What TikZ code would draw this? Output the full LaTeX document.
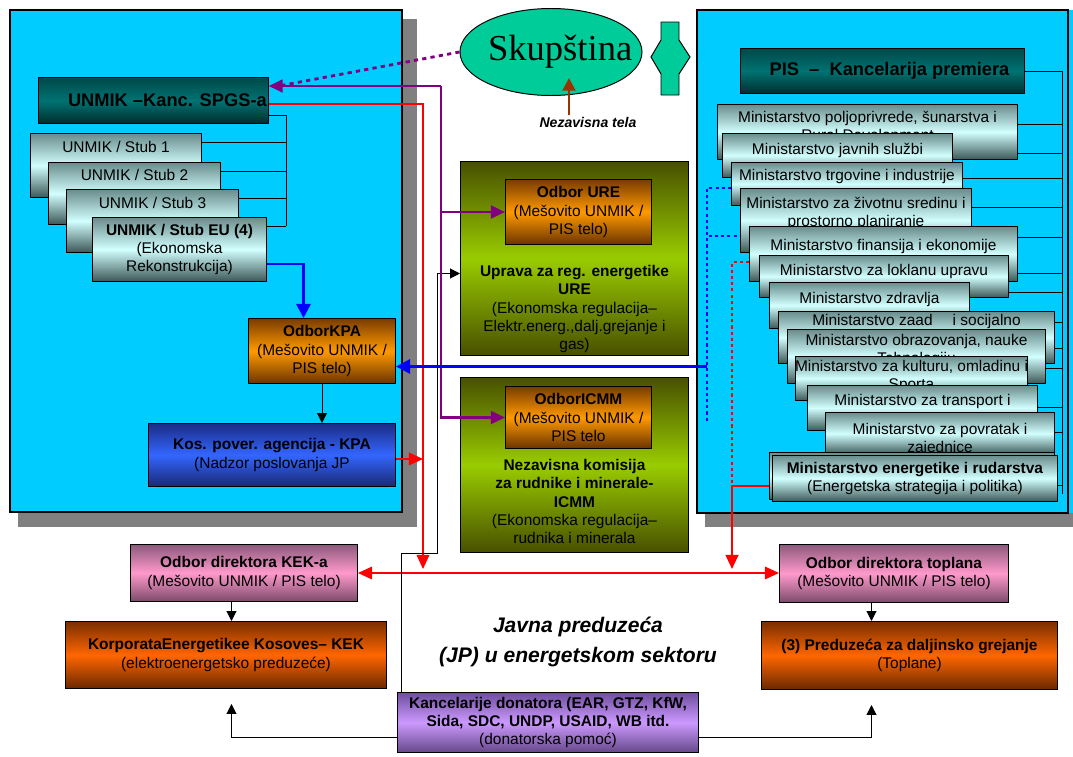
\documentclass[tikz,border=0pt]{standalone}
\usepackage{fontspec}
\setmainfont{Liberation Sans}
\newfontfamily\skupfont{Liberation Serif}
\usetikzlibrary{arrows.meta,shapes.geometric}

\pgfdeclarelayer{panels}
\pgfdeclarelayer{lines}
\pgfsetlayers{panels,lines,main}

\newcommand\pxu{0.025cm}
\newcommand\fsn{\fontsize{11}{13}\selectfont}
\newcommand\fsh{\fontsize{13}{15}\selectfont\bfseries}

\definecolor{panelcyan}{HTML}{00CCFF}
\definecolor{shadowgray}{HTML}{808080}
\definecolor{skupgreen}{HTML}{00CC99}
\definecolor{linepurple}{HTML}{800080}
\definecolor{linered}{HTML}{FF0000}
\definecolor{lineblue}{HTML}{0000FF}
\definecolor{arrowbrown}{HTML}{993300}
\definecolor{tealtop}{HTML}{004848}
\definecolor{tealmid}{HTML}{007272}
\definecolor{tealbot}{HTML}{002E2E}
\definecolor{stubtop}{HTML}{6A8C8C}
\definecolor{stubmid}{HTML}{D2FFFF}
\definecolor{stubbot}{HTML}{3C5656}
\definecolor{orgtop}{HTML}{7A3C00}
\definecolor{orgmid}{HTML}{FF9900}
\definecolor{orgbot}{HTML}{6A3400}
\definecolor{kpatop}{HTML}{1C2C86}
\definecolor{kpamid}{HTML}{3366FF}
\definecolor{kpabot}{HTML}{1A2874}
\definecolor{grntop}{HTML}{485000}
\definecolor{grnmid}{HTML}{99CC00}
\definecolor{grnbot}{HTML}{485000}
\definecolor{pnktop}{HTML}{8C5A7C}
\definecolor{pnkmid}{HTML}{FF99CC}
\definecolor{pnkbot}{HTML}{7A4A6A}
\definecolor{redtop}{HTML}{7A2E00}
\definecolor{redmid}{HTML}{FF6600}
\definecolor{redbot}{HTML}{6A2800}
\definecolor{dontop}{HTML}{6E4E9E}
\definecolor{donmid}{HTML}{CC99FF}
\definecolor{donbot}{HTML}{654888}

\tikzset{
  box/.style={draw=black, line width=0.7pt, anchor=north west, inner sep=1pt, align=center, font=\fsn},
  wh/.style 2 args={minimum width=#1*\pxu, minimum height=#2*\pxu},
  txt/.style={anchor=north, align=center, inner sep=0pt, font=\fsn},
  tealbox/.style={box, top color=tealtop, bottom color=tealbot, middle color=tealmid, font=\fsh},
  stubbox/.style={box, top color=stubtop, bottom color=stubbot, middle color=stubmid},
  orangebox/.style={box, top color=orgtop, bottom color=orgbot, middle color=orgmid},
  bluebox/.style={box, top color=kpatop, bottom color=kpabot, middle color=kpamid},
  greenbox/.style={box, top color=grntop, bottom color=grnbot, middle color=grnmid},
  pinkbox/.style={box, top color=pnktop, bottom color=pnkbot, middle color=pnkmid},
  redbox/.style={box, top color=redtop, bottom color=redbot, middle color=redmid},
  donorbox/.style={box, top color=dontop, bottom color=donbot, middle color=donmid},
  conn/.style={line width=0.7pt},
  blkarrow/.style={conn, -{Triangle[width=7pt,length=7pt]}},
  redline/.style={linered, line width=0.8pt},
  redtip/.style={-{Triangle[width=9pt,length=10pt]}},
  redthick/.style={linered, line width=1.6pt},
  bluearrow/.style={lineblue, line width=2pt, -{Triangle[width=10pt,length=10pt]}},
  bluedot/.style={lineblue, line width=2pt, dash pattern=on 2.2pt off 2.2pt},
  reddot/.style={linered, line width=2pt, dash pattern=on 2.2pt off 2.2pt},
  purparrow/.style={linepurple, line width=2pt, -{Triangle[width=9pt,length=10pt]}},
  purdot/.style={linepurple, line width=2pt, dash pattern=on 3pt off 3pt},
  brownarrow/.style={arrowbrown, line width=2pt, -{Triangle[width=9pt,length=9pt]}},
}

\begin{document}
\begin{tikzpicture}[x=\pxu, y=-\pxu]
  \useasboundingbox (0,0) rectangle (1073,757);

  % panels with shadows
  \begin{pgfonlayer}{panels}
    \fill[shadowgray] (18,19) rectangle (417,527);
    \draw[line width=2pt, fill=panelcyan] (10,10) rectangle (402,512);
    \fill[shadowgray] (705,513) rectangle (1073,527);
    \fill[panelcyan] (697,10) rectangle (1073,513);
    \draw[line width=2pt] (697,10) rectangle (1068,513);
  \end{pgfonlayer}

  % parliament
  \node[ellipse, draw, line width=0.7pt, fill=skupgreen, wh={182}{87}, inner sep=0pt,
        font=\skupfont\fontsize{26}{30}\selectfont] (skup) at (551,52) {\makebox[0pt]{\hspace{13pt}Skupština}};
  \draw[fill=skupgreen, line width=0.7pt] (661,22) -- (679,22) -- (679,40) -- (690,57) -- (679,74)
    -- (679,95) -- (661,95) -- (661,74) -- (651,57) -- (661,40) -- cycle;
  \node[font=\bfseries\itshape\fontsize{10}{12}\selectfont, inner sep=1pt] (nezt) at (588,122) {Nezavisna tela};
  \coordinate (skupin) at (569,78);
  \draw[brownarrow] (nezt.north -| skupin) -- (skupin);

  % UNMIK side
  \node[tealbox, wh={228}{46}] (spgs) at (38,77) {\hspace{20pt}UNMIK –Kanc. SPGS-a};
  \node[stubbox, wh={171}{64}, label={[txt,yshift=-8*\pxu]north:UNMIK / Stub 1}] (stub1) at (30,133) {};
  \node[stubbox, wh={172}{62}, label={[txt,yshift=-7*\pxu]north:UNMIK / Stub 2}] (stub2) at (48,162) {};
  \node[stubbox, wh={172}{63}, label={[txt,yshift=-8*\pxu]north:UNMIK / Stub 3}] (stub3) at (66,189) {};
  \node[stubbox, wh={174}{64}] (stubeu) at (92,217) {\textbf{UNMIK / Stub EU (4)}\\(Ekonomska\\Rekonstrukcija)};
  \node[orangebox, wh={147}{65}] (odborkpa) at (248,318) {\textbf{OdborKPA}\\(Mešovito UNMIK /\\PIS telo)};
  \node[bluebox, wh={247}{63}] (kpa) at (148,423) {\textbf{Kos. pover. agencija - KPA}\\(Nadzor poslovanja JP};

  % regulators
  \node[greenbox, wh={228}{194}, label={[txt,yshift=-104*\pxu]north:{\textbf{Uprava za reg. energetike}\\
        \textbf{URE}\\(Ekonomska regulacija–\\Elektr.energ.,dalj.grejanje i\\gas)}}] (ure) at (460,161) {};
  \node[orangebox, wh={146}{65}] (odbure) at (505,179) {\textbf{Odbor URE}\\(Mešovito UNMIK /\\PIS telo)};
  \node[greenbox, wh={228}{175}, label={[txt,yshift=-82*\pxu]north:{\textbf{Nezavisna komisija}\\
        \textbf{za rudnike i minerale-}\\\textbf{ICMM}\\(Ekonomska regulacija–\\rudnika i minerala}}] (icmm) at (460,377) {};
  \node[orangebox, wh={146}{62}] (odbicmm) at (505,386) {\textbf{OdborICMM}\\(Mešovito UNMIK /\\PIS telo};

  % PIS side
  \node[tealbox, wh={284}{45}] (pis) at (740,48) {\hspace{10pt}PIS \ – \ Kancelarija premiera};
  \node[stubbox, wh={300}{55}, label={[txt,yshift=-7*\pxu]north:{Ministarstvo poljoprivrede, šunarstva i\\Rural Development}}] (m1) at (717,104) {};
  \node[stubbox, wh={230}{44}, label={[txt,yshift=-10*\pxu]north:Ministarstvo javnih službi}] (m2) at (722,133) {};
  \node[stubbox, wh={231}{43}, label={[txt,yshift=-7*\pxu]north:Ministarstvo trgovine i industrije}] (m3) at (731,162) {};
  \node[stubbox, wh={231}{64}, label={[txt,yshift=-9*\pxu]north:{Ministarstvo za životnu sredinu i\\prostorno planiranje}}] (m4) at (740,188) {};
  \node[stubbox, wh={268}{55}, label={[txt,yshift=-13*\pxu]north:Ministarstvo finansija i ekonomije}] (m5) at (749,226) {};
  \node[stubbox, wh={249}{42}, label={[txt,yshift=-9*\pxu]north:Ministarstvo za loklanu upravu}] (m6) at (759,255) {};
  \node[stubbox, wh={200}{46}, label={[txt,yshift=-10*\pxu]north:Ministarstvo zdravlja}] (m7) at (769,282) {};
  \node[stubbox, wh={276}{52}, label={[txt,yshift=-3*\pxu]north:Ministarstvo zaad\hspace{1.3em}i socijalno}] (m8) at (778,311) {};
  \node[stubbox, wh={258}{54}, label={[txt,yshift=-5*\pxu]north:{Ministarstvo obrazovanja, nauke\\Tehnologiju}}] (m9) at (787,329) {};
  \node[stubbox, wh={232}{44}, label={[txt,yshift=-4*\pxu]north:{Ministarstvo za kulturu, omladinu i\\Sporta}}] (m10) at (795,356) {};
  \node[stubbox, wh={230}{45}, label={[txt,yshift=-9*\pxu]north:Ministarstvo za transport i}] (m11) at (807,385) {};
  \node[stubbox, wh={229}{42}, label={[txt,yshift=-11*\pxu]north:{Ministarstvo za povratak i\\zajednice}}] (m12) at (825,412) {};
  \node[stubbox, wh={285}{47}] (mback) at (769,452) {};
  \node[stubbox, wh={285}{46}] (m13) at (772,455) {\textbf{Ministarstvo energetike i rudarstva}\\(Energetska strategija i politika)};

  % public enterprises
  \node[pinkbox, wh={227}{57}] (kekboard) at (130,544) {\textbf{Odbor direktora KEK-a}\\(Mešovito UNMIK / PIS telo)};
  \node[redbox, wh={321}{67}] (kek) at (65,621) {\textbf{KorporataEnergetikee Kosoves– KEK}\\(elektroenergetsko preduzeće)};
  \node[pinkbox, wh={229}{58}] (topboard) at (779,544) {\textbf{Odbor direktora toplana}\\(Mešovito UNMIK / PIS telo)};
  \node[redbox, wh={296}{68}] (toplane) at (761,621) {\textbf{(3) Preduzeća za daljinsko grejanje}\\(Toplane)};
  \node[donorbox, wh={301}{60}] (donor) at (397,692) {\textbf{Kancelarije donatora (EAR, GTZ, KfW,}\\
        \textbf{Sida, SDC, UNDP, USAID, WB itd.}\\(donatorska pomoć)};
  \node[font=\bfseries\itshape\fontsize{15}{21}\selectfont, align=center] (jp) at (578,642)
        {Javna preduzeća\\(JP) u energetskom sektoru};

  \begin{pgfonlayer}{lines}
    % brackets
    \coordinate (lbus) at (286,226);
    \draw[conn] ([yshift=-38*\pxu]spgs.north east) -| (lbus);
    \foreach \s in {stub1,stub2,stub3,stubeu}
      \draw[conn] ([yshift=-9*\pxu]\s.north east) -| (lbus);
    \coordinate (rbus) at (1062,494);
    \draw[conn] (pis.east) -| (rbus);
    \foreach \m/\o in {m1/20,m2/20,m3/16,m4/19,m5/11,m6/18,m7/10,m8/11,m9/19,m10/12,m11/22,m12/20,m13/30}
      \draw[conn] ([yshift=-\o*\pxu]\m.north east) -| (rbus);

    % blue
    \draw[bluearrow] ([yshift=18*\pxu]stubeu.south east) -| ([xshift=-18.5*\pxu]odborkpa.north);
    \coordinate (bbot) at (707,422);
    \draw[bluedot] ([yshift=-26*\pxu]m3.north west) -| (bbot);
    \coordinate (finb) at ([yshift=-10*\pxu]m5.north west);
    \draw[bluedot] (finb) -- (finb -| bbot);
    \draw[blkarrow] (odborkpa.south) -- (odborkpa.south |- kpa.north);

    % red
    \coordinate (rjl) at (423,569);
    \draw[redline, redtip] ([yshift=-27*\pxu]spgs.north east) -| (rjl);
    \coordinate (kpaout) at ([yshift=-36*\pxu]kpa.north east);
    \draw[redline, redtip] (kpaout) -- (kpaout -| rjl);
    \draw[redline, {Triangle[width=9pt,length=10pt]}-{Triangle[width=9pt,length=10pt]}] (kekboard.east) -- (topboard.west |- kekboard.east);
    \coordinate (rjr) at (732,485);
    \coordinate (rjb) at (732,569);
    \draw[reddot] ([yshift=-36*\pxu]m5.north west) -| (rjr);
    \draw[redthick, redtip] ([yshift=-31*\pxu]m13.north west) -| (rjb);

    % black
    \coordinate (dk1) at (437,553);
    \coordinate (urein) at ([yshift=-15*\pxu]ure.west);
    \draw[blkarrow] ([xshift=4*\pxu]donor.north west) |- (dk1) |- (urein);
    \draw[blkarrow] ([yshift=-15*\pxu]donor.west) -| ([xshift=5.5*\pxu,yshift=-15*\pxu]kek.south);
    \draw[blkarrow] ([yshift=-15*\pxu]donor.east) -| ([xshift=-38*\pxu,yshift=-15*\pxu]toplane.south);
    \coordinate (kb) at ([xshift=-12.5*\pxu]kekboard.south);
    \draw[blkarrow] (kb) -- (kb |- kek.north);
    \coordinate (tb) at ([xshift=-22.5*\pxu]topboard.south);
    \draw[blkarrow] (tb) -- (tb |- toplane.north);

    % purple dotted from parliament
    \coordinate (pj) at (441,86);
    \coordinate (pin) at (spgs.east |- pj);
    \draw[purdot] (skup.west) -- ([xshift=10*\pxu]pin);
  \end{pgfonlayer}

  % purple and blue over the boxes
  \draw[purparrow] (pj) -- (pin);
  \draw[purparrow] (pj) |- (odbure.west);
  \draw[purparrow] (pj) |- (odbicmm.west);
  \coordinate (kpain) at ([yshift=-15.5*\pxu]odborkpa.east);
  \draw[bluearrow] (kpain -| bbot) -- (kpain);
\end{tikzpicture}
\end{document}
